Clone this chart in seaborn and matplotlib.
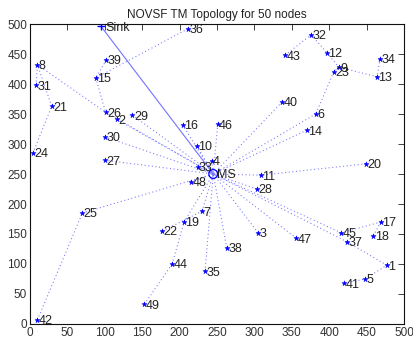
import matplotlib
matplotlib.use("Agg")
import matplotlib.pyplot as plt
import seaborn as sns
import pandas as pd

# ---- data ----
node_ids = list(range(1, 50))
node_x = [477, 116, 305, 243, 448, 382, 230, 10, 413, 223,
          309, 397, 464, 370, 88, 204, 469, 459, 206, 449,
          29, 177, 406, 4, 70, 101, 100, 303, 137, 100,
          8, 376, 224, 468, 234, 211, 424, 263, 102, 337,
          420, 10, 341, 190, 416, 251, 356, 215, 153]
node_y = [98, 341, 152, 272, 75, 350, 188, 432, 428, 297,
          248, 452, 412, 323, 410, 332, 170, 147, 170, 267,
          363, 155, 420, 285, 185, 353, 273, 225, 348, 312,
          398, 482, 262, 442, 88, 492, 137, 127, 440, 370,
          68, 7, 448, 100, 152, 333, 143, 237, 33]
# parent of each node (0 = MS)
node_parent = [37, 0, 0, 0, 1, 0, 0, 26, 23, 0,
               0, 9, 9, 0, 26, 0, 45, 17, 0, 11,
               8, 7, 6, 21, 0, 0, 0, 0, 0, 0,
               8, 12, 0, 13, 0, 15, 0, 0, 15, 0,
               5, 25, 32, 19, 0, 0, 0, 0, 44]
ms_xy = (245, 250)
sink_xy = (95, 496)
title = "NOVSF TM Topology for 50 nodes"

df = pd.DataFrame({"id": node_ids, "x": node_x, "y": node_y, "parent": node_parent})

sns.set_style("white")
plt.rcParams["font.family"] = ["Liberation Sans", "DejaVu Sans"]

fig = plt.figure(figsize=(4.14, 3.47), dpi=100)
ax = fig.add_axes([30 / 414, 23 / 347, 374 / 414, 300 / 347])

blue = (0, 0, 1)
edge_col = (0.45, 0.45, 1.0)
pos = {r.id: (r.x, r.y) for r in df.itertuples()}
pos[0] = ms_xy

# edges
for r in df.itertuples():
    px, py = pos[r.parent]
    ax.plot([r.x, px], [r.y, py], linestyle=(0, (1, 2.5)), color=edge_col,
            lw=0.75, zorder=1)
ax.plot([sink_xy[0], ms_xy[0]], [sink_xy[1], ms_xy[1]], color=edge_col, lw=0.8, zorder=1)

# nodes
sns.scatterplot(data=df, x="x", y="y", marker="*", s=14, color=blue,
                edgecolor=blue, linewidth=0.4, ax=ax, zorder=3)
sns.scatterplot(x=[sink_xy[0]], y=[sink_xy[1]], marker="+", s=36, color=blue,
                linewidth=1.0, ax=ax, zorder=3)
sns.scatterplot(x=[ms_xy[0]], y=[ms_xy[1]], marker="o", s=40, facecolor="none",
                edgecolor=blue, linewidth=0.9, ax=ax, zorder=3)

for r in df.itertuples():
    ax.annotate(str(r.id), (r.x, r.y), xytext=(1.0, -1), textcoords="offset points",
                va="center", ha="left", fontsize=9, color="#222222", zorder=4)
ax.annotate("Sink", sink_xy, xytext=(3, -1), textcoords="offset points",
            va="center", ha="left", fontsize=9, color="#222222")
ax.annotate("MS", ms_xy, xytext=(3, -1), textcoords="offset points",
            va="center", ha="left", fontsize=9, color="#222222")

ax.set_xlim(0, 500)
ax.set_ylim(0, 500)
ax.set_xticks(range(0, 501, 50))
ax.set_yticks(range(0, 501, 50))
ax.set_xlabel("")
ax.set_ylabel("")
ax.tick_params(direction="in", length=4, width=0.6, top=True, right=True,
               labelsize=8.5, labelcolor="#333333", color="#222222", pad=2)
for sp in ax.spines.values():
    sp.set_visible(True)
    sp.set_color("#111111")
    sp.set_linewidth(0.8)
ax.set_title(title, fontsize=8.5, color="#222222", pad=4)

fig.savefig("out.png", dpi=100)
